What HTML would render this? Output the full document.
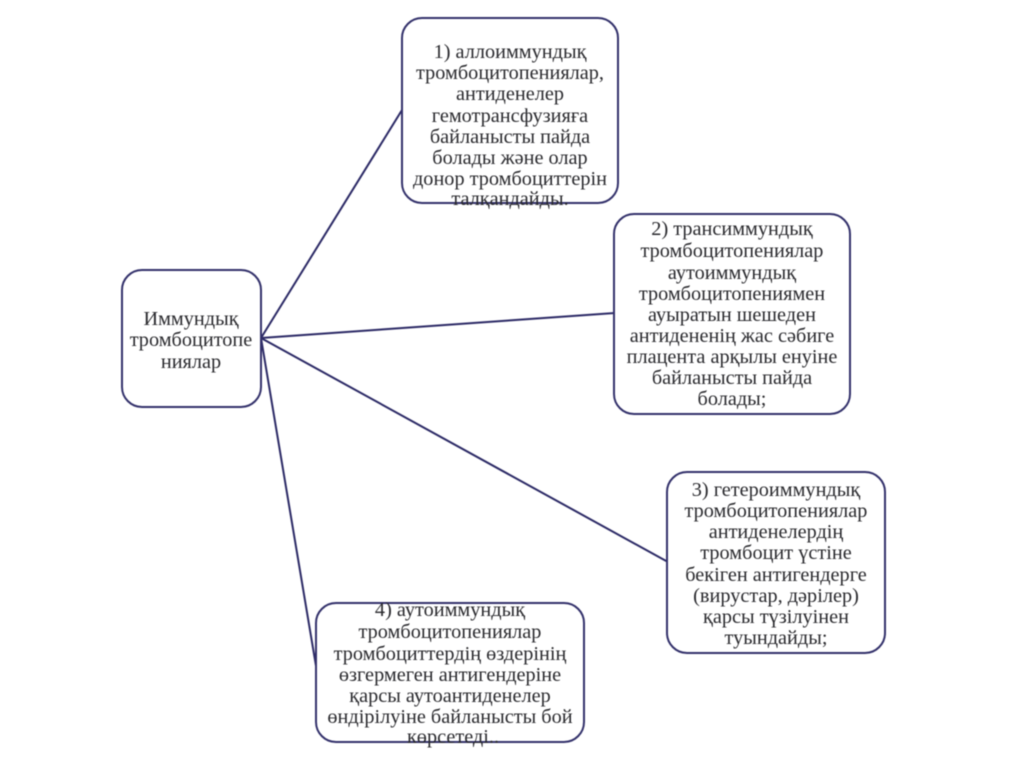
<!DOCTYPE html>
<html><head><meta charset="utf-8">
<style>
html,body{margin:0;padding:0;background:#fff;width:1024px;height:767px;overflow:hidden}
svg{display:block;filter:blur(.45px)}
text{font-family:"Liberation Serif",serif;font-size:20.3px;fill:#2a2a2e;text-anchor:middle}
rect{fill:#fff;stroke:#33316b;stroke-width:2}
line{stroke:#2c2a66;stroke-width:2}
</style></head><body>
<svg width="1024" height="767" viewBox="0 0 1024 767" xmlns="http://www.w3.org/2000/svg">
<line x1="261" y1="338" x2="402" y2="110"/>
<line x1="261" y1="338" x2="615" y2="313"/>
<line x1="261" y1="338" x2="668" y2="562"/>
<line x1="261" y1="338" x2="317" y2="672"/>
<rect x="402" y="18" width="216" height="185" rx="20"/>
<rect x="614" y="214" width="236" height="200" rx="20"/>
<rect x="667" y="472" width="218" height="181" rx="20"/>
<rect x="316" y="603" width="268" height="139" rx="20"/>
<rect x="122" y="270" width="139" height="137" rx="20"/>
<text x="510" y="58">1) аллоиммундық</text>
<text x="510" y="79">тромбоцитопениялар,</text>
<text x="510" y="100">антиденелер</text>
<text x="510" y="122">гемотрансфузияға</text>
<text x="510" y="143">байланысты пайда</text>
<text x="510" y="164">болады және олар</text>
<text x="510" y="185">донор тромбоциттерін</text>
<text x="510" y="205">талқандайды.</text>
<text x="732" y="235">2) трансиммундық</text>
<text x="732" y="257">тромбоцитопениялар</text>
<text x="732" y="279">аутоиммундық</text>
<text x="732" y="300">тромбоцитопениямен</text>
<text x="732" y="321">ауыратын шешеден</text>
<text x="732" y="342">антидененің жас сәбиге</text>
<text x="732" y="363">плацента арқылы енуіне</text>
<text x="732" y="384">байланысты пайда</text>
<text x="732" y="405">болады;</text>
<text x="776" y="496">3) гетероиммундық</text>
<text x="776" y="517">тромбоцитопениялар</text>
<text x="776" y="538">антиденелердің</text>
<text x="776" y="559">тромбоцит үстіне</text>
<text x="776" y="581">бекіген антигендерге</text>
<text x="776" y="602">(вирустар, дәрілер)</text>
<text x="776" y="623">қарсы түзілуінен</text>
<text x="776" y="644">туындайды;</text>
<text x="450" y="616">4) аутоиммундық</text>
<text x="450" y="638">тромбоцитопениялар</text>
<text x="450" y="660">тромбоциттердің өздерінің</text>
<text x="450" y="681">өзгермеген антигендеріне</text>
<text x="450" y="702">қарсы аутоантиденелер</text>
<text x="450" y="723">өндірілуіне байланысты бой</text>
<text x="453" y="743">көрсетеді..</text>
<text x="191" y="325">Иммундық</text>
<text x="191" y="346">тромбоцитопе</text>
<text x="191" y="368">ниялар</text>
</svg>
</body></html>
